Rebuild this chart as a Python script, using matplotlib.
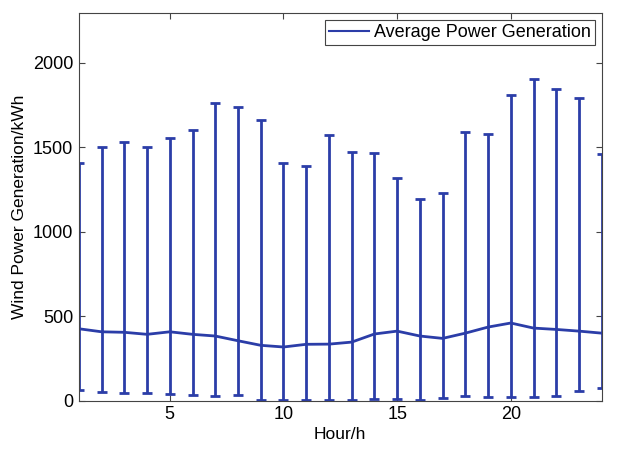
import numpy as np
import matplotlib
matplotlib.use('Agg')
import matplotlib.pyplot as plt

#%% Data
hours = np.arange(1, 25)
avg_power = [426, 408, 405, 393, 408, 393, 383, 355, 328, 318, 334, 335,
             347, 395, 412, 383, 369, 400, 436, 460, 430, 422, 412, 400]
upper = [1405, 1500, 1530, 1500, 1555, 1600, 1765, 1740, 1660, 1405, 1390, 1575,
         1470, 1465, 1320, 1195, 1230, 1590, 1578, 1810, 1905, 1845, 1790, 1460]
lower = [65, 51, 47, 44, 41, 32, 28, 36, 4, 4, 4, 4,
         6, 12, 10, 6, 18, 26, 22, 20, 24, 28, 59, 73]

avg = np.array(avg_power)
err = [avg - np.array(lower), np.array(upper) - avg]

#%% Plot
plt.rcParams['font.family'] = ['Liberation Sans', 'DejaVu Sans']
color = '#2b3da8'

fig = plt.figure(figsize=(6.21, 4.51), dpi=100)
ax = fig.add_axes([0.127, 0.1115, 0.842, 0.8595])
ax.errorbar(hours, avg, yerr=err, color=color, lw=2, elinewidth=2,
            capsize=3.8, capthick=2)
ax.plot([], [], color=color, lw=1.5, label='Average Power Generation')

ax.set_xlim(1, 24)
ax.set_ylim(0, 2295)
ax.set_xticks([5, 10, 15, 20])
ax.set_yticks([0, 500, 1000, 1500, 2000])
ax.tick_params(direction='in', top=True, right=True, labelsize=13, length=4,
               color='#444444', pad=4)
for s in ax.spines.values():
    s.set_color('#444444')
ax.set_xlabel('Hour/h', fontsize=12.5, labelpad=3)
ax.set_ylabel('Wind Power Generation/kWh', fontsize=12.5, labelpad=4)

leg = ax.legend(loc='upper right', fontsize=13, fancybox=False,
                framealpha=1, edgecolor='#444444', handlelength=2.2,
                handletextpad=0.3, borderpad=0.2, borderaxespad=0.4)
leg.get_frame().set_linewidth(0.8)

fig.savefig('out.png', dpi=100)
